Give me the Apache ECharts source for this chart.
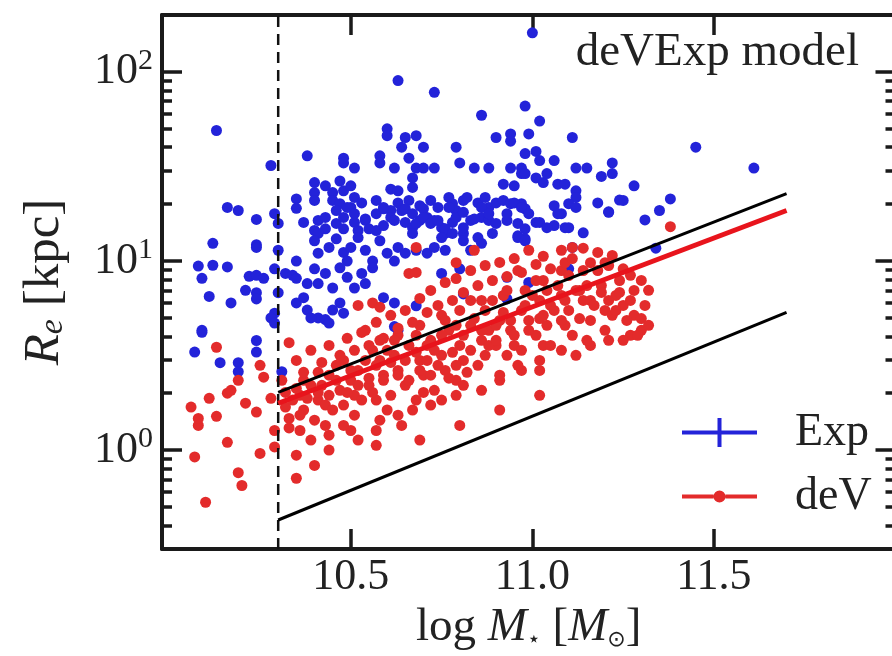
<!DOCTYPE html>
<html><head><meta charset="utf-8">
<script src="https://cdn.jsdelivr.net/npm/echarts@6/dist/echarts.min.js"></script>
<style>html,body{margin:0;padding:0;background:#fff}#c{width:892px;height:656px}</style>
</head><body><div id="c"></div>
<script>
// ---- data ----
const xTicks = [10.5, 11.0, 11.5];
const yMajorTicks = [1, 10, 100];
const yMinorTicks = [0.4,0.5,0.6,0.7,0.8,0.9,2,3,4,5,6,7,8,9,20,30,40,50,60,70,80,90];
const massCut = 10.3;
const upperLine = [[10.3, 2.02], [11.7, 22.7]];
const devFit = [[10.3, 1.77], [11.7, 18.5]];
const lowerLine = [[10.3, 0.427], [11.7, 5.35]];
const panelLabel = 'deVExp model';

const expPoints = [
[11.00,161],[10.63,90],[10.73,78],[10.98,66],[10.86,59],[11.02,55],[10.13,49],[10.60,50],[10.60,46],[10.65,45],
[10.68,46],[10.90,45],[10.94,47],[10.94,43],[10.99,47],[11.11,45],[10.79,40],[10.64,40],[10.70,40],[10.98,37],
[11.01,38],[10.38,36],[10.48,35],[10.48,33],[10.58,36],[10.58,33],[10.66,35],[10.51,31],[10.62,31],[10.68,31],
[10.70,31],[10.73,31],[10.80,33],[10.84,31],[10.88,31],[10.94,31],[10.97,31],[11.02,34],[11.06,34],[11.12,31],
[11.15,31],[11.22,33],[10.28,32],[11.19,28],[11.22,29],[11.28,25],[10.40,26],[10.40,23],[10.43,25],[10.45,23],
[10.47,26.5],[10.48,23.5],[10.50,25],[10.61,24],[10.63,23.5],[10.67,27.5],[10.67,24.5],[10.92,25.5],[10.95,25],[10.97,29],
[10.98,29],[11.01,27.5],[11.03,26],[11.04,29],[11.07,25.5],[11.09,25.5],[11.12,23.5],[11.12,21.7],[10.35,21.3],[10.40,20.9],
[10.45,20.9],[10.47,20.1],[10.51,21.7],[10.50,19.2],[10.53,20.3],[10.57,20.9],[10.59,18.9],[10.61,18.5],[10.63,20.3],[10.66,20.9],
[10.69,19.6],[10.70,18.9],[10.72,20.9],[10.74,19.2],[10.77,21.7],[10.78,20.1],[10.79,18.5],[10.81,20.9],[10.82,21.7],[10.85,20.3],
[10.87,21.7],[10.88,19.2],[10.90,20.3],[10.92,20.9],[10.94,20.1],[10.97,20.1],[10.98,18.9],[11.06,19.6],[11.08,17.8],[11.10,20.1],
[11.12,19.2],[11.18,20.3],[11.21,18.1],[11.25,20.9],[10.16,19.2],[10.19,18.5],[10.24,16.6],[10.29,17.8],[10.30,15.8],[10.35,19.0],
[10.37,16.0],[10.40,14.5],[10.41,16.4],[10.43,14.8],[10.46,15.8],[10.48,17.0],[10.48,14.8],[10.51,16.0],[10.52,14.5],[10.54,16.4],
[10.55,14.8],[10.57,14.5],[10.59,15.4],[10.61,17.0],[10.64,18.5],[10.65,16.0],[10.67,15.0],[10.69,16.4],[10.71,17.0],[10.73,16.4],
[10.75,15.0],[10.76,14.0],[10.78,16.0],[10.81,14.0],[10.81,15.0],[10.83,16.4],[10.86,17.0],[10.88,16.4],[10.93,16.4],[10.96,15.8],
[10.98,14.8],[11.01,16.0],[11.06,15.4],[11.09,15.0],[11.14,14.1],[10.96,13.6],[10.98,13.1],[10.12,12.4],[10.08,9.4],[10.12,9.5],
[10.16,9.3],[10.09,8.1],[10.11,6.5],[10.17,6.0],[10.09,4.3],[10.24,12.2],[10.24,11.8],[10.22,8.3],[10.24,8.4],[10.26,8.1],
[10.21,7.0],[10.24,6.8],[10.24,6.3],[10.29,9.1],[10.30,11.4],[10.30,6.8],[10.29,5.3],[10.28,5.0],[10.29,4.7],[10.32,8.6],
[10.34,8.4],[10.35,8.1],[10.35,10.0],[10.38,7.6],[10.35,6.0],[10.37,6.4],[10.38,5.5],
[10.41,14.0],[10.43,17.0],[10.46,18.5],[10.49,19.2],[10.51,17.8],[10.54,16.7],[10.57,17.8],[10.59,19.2],[10.62,16.4],[10.65,18.9],
[10.67,17.8],[10.68,15.8],[10.70,17.0],[10.72,15.8],[10.74,16.4],[10.76,14.8],[10.77,19.2],[10.79,17.0],[10.81,18.1],[10.84,16.7],
[10.86,19.2],[10.88,17.8],[10.90,15.8],[10.93,17.8],[10.95,20.3],[10.97,19.2],[10.99,17.8],[11.02,16.0],[11.07,17.8],[11.10,15.0],
[10.40,12.8],[10.41,11.0],[10.44,11.8],[10.46,13.1],[10.48,11.1],[10.50,11.8],[10.49,10.0],[10.52,13.3],[10.54,11.4],[10.56,10.0],
[10.58,12.8],[10.60,11.0],[10.62,10.0],[10.63,11.8],[10.65,11.0],[10.67,14.0],[10.68,11.4],[10.71,11.0],[10.73,11.8],[10.75,13.3],
[10.76,11.4],[10.78,14.0],[10.81,12.8],[10.83,11.4],[10.85,13.3],[10.86,12.4],[10.89,14.0],[10.96,13.3],[10.98,12.8],[11.04,15.0],
[11.11,11.8],[11.10,9.1],
[10.40,9.1],[10.41,7.6],[10.43,8.6],[10.45,7.2],[10.47,9.2],[10.49,8.2],[10.51,7.2],[10.53,8.6],[10.54,7.6],[10.56,9.2],
[10.59,6.4],[10.47,6.0],[10.45,5.5],[10.48,5.3],[10.41,5.0],[10.43,4.9],[10.44,4.7],[10.39,5.0],[10.62,6.0],[10.63,4.3],
[10.62,4.5],[10.68,5.8],[10.75,8.6],[10.80,9.1],[10.93,8.2],[10.99,7.7],[10.93,6.3],[10.81,6.7],
[11.45,40],[11.61,31],[11.21,18.2],[11.24,21],[11.31,16.5],[11.35,18.5],[11.38,21.3],[11.34,11.7],
[10.09,4.2],[10.07,3.3],[10.14,2.9],[10.19,2.9],[10.19,2.6],[10.24,3.8],[10.24,3.3],[10.31,2.6]
];

const devPoints = [
[10.06,1.69],[10.08,1.35],[10.08,1.47],[10.13,3.5],[10.11,1.88],[10.13,1.51],[10.16,1.10],[10.16,2.0],[10.17,2.07],[10.19,2.34],
[10.21,1.77],[10.24,1.59],[10.25,2.81],[10.26,2.43],[10.25,0.96],[10.29,1.04],[10.19,0.76],[10.20,0.65],[10.10,0.53],[10.07,0.92],
[10.29,1.27],[10.28,1.88],[10.31,2.34],[10.33,3.7],[10.32,1.69],[10.33,1.47],[10.36,1.27],[10.35,0.71],
[10.36,1.95],[10.39,2.20],[10.41,1.84],[10.44,2.49],[10.37,1.63],[10.40,1.44],[10.43,1.73],[10.47,2.07],[10.50,2.34],[10.48,2.98],
[10.52,2.64],[10.51,1.95],[10.55,2.20],[10.58,2.98],[10.59,2.49],[10.57,1.84],[10.62,3.17],[10.63,2.64],[10.65,2.20],[10.66,3.58],
[10.69,2.98],[10.70,2.49],[10.68,1.84],[10.72,3.81],[10.75,3.17],[10.76,2.64],[10.73,2.07],[10.77,4.30],[10.80,3.58],[10.81,2.98],
[10.79,2.34],[10.83,4.57],[10.86,3.81],[10.88,4.30],[10.87,3.17],[10.90,3.58],[10.91,4.85],[10.94,4.30],[10.97,5.48],[10.95,3.58],
[10.99,4.85],[11.02,6.19],[11.03,5.16],[11.01,4.05],[11.05,5.82],[11.08,6.58],[11.10,5.48],[11.09,4.57],[11.13,6.99],[11.16,6.19],
[11.19,7.42],[11.20,5.48],[11.23,6.58],[11.25,5.82],[11.28,5.16],[11.30,4.30],[11.24,7.89],[11.21,9.47],[11.14,8.91],[11.08,8.91],
[11.03,7.89],[10.98,6.99],[10.92,6.58],[10.86,6.19],[10.80,5.48],[10.75,5.16],[10.69,4.57],[10.63,4.05],[10.58,3.81],[10.54,4.30],
[10.52,5.82],[10.56,6.0],[10.58,5.7],[10.68,11.8],[10.84,11.4],[11.11,11.8],[10.66,8.6],[10.96,8.9],[11.38,15.2],
[10.44,1.20],[10.50,1.27],[10.58,1.44],[10.63,1.53],[10.72,1.73],[10.79,1.95],[10.86,2.07],[10.91,2.34],[10.97,2.64],[11.02,2.98],
[11.08,3.37],[11.16,3.58],[11.21,3.81],[11.27,4.05],[10.57,1.06],[10.69,1.13],[10.80,1.35],[10.91,1.63],[11.02,1.95],
[10.34,1.84],[10.35,2.12],[10.37,2.34],[10.38,1.88],[10.36,1.53],[10.33,1.31],[10.39,1.13],[10.35,0.94],[10.41,2.02],[10.32,2.02],
[10.42,2.20],[10.44,1.95],[10.45,1.63],[10.46,2.34],[10.43,1.35],[10.46,2.81],[10.41,2.58],[10.48,1.73],[10.44,1.00],[10.40,0.83],
[10.49,2.02],[10.50,2.64],[10.52,2.20],[10.53,1.84],[10.54,2.98],[10.51,1.53],[10.48,1.35],[10.55,2.40],[10.56,2.02],[10.52,1.13],
[10.57,2.81],[10.59,2.34],[10.60,3.37],[10.61,1.95],[10.63,2.49],[10.60,1.63],[10.57,1.27],[10.62,3.81],[10.61,2.91],[10.56,3.37],
[10.65,2.98],[10.66,2.34],[10.68,3.29],[10.69,2.64],[10.70,2.02],[10.71,3.58],[10.67,1.63],[10.64,1.35],[10.68,4.05],[10.71,2.98],
[10.73,3.37],[10.74,2.81],[10.75,4.05],[10.77,2.40],[10.78,3.29],[10.79,4.57],[10.75,1.84],[10.79,2.81],[10.76,4.85],[10.72,2.49],
[10.81,4.05],[10.83,3.37],[10.84,4.96],[10.85,2.81],[10.86,4.30],[10.88,3.58],[10.81,2.20],[10.87,5.48],[10.83,6.19],[10.82,2.58],
[10.90,4.57],[10.90,3.81],[10.92,5.35],[10.93,3.17],[10.94,4.85],[10.95,4.05],[10.89,6.19],[10.93,6.99],[10.96,2.81],[10.91,2.49],
[10.98,5.82],[10.99,4.30],[11.00,6.58],[11.02,4.96],[11.03,3.58],[11.04,6.99],[10.97,3.37],[11.04,4.57],[11.01,7.89],[11.02,2.64],
[11.06,5.48],[11.07,7.42],[11.08,4.85],[11.09,6.19],[11.11,4.05],[11.12,6.99],[11.05,3.58],[11.10,8.38],[11.13,4.96],[11.12,3.17],
[11.14,6.19],[11.15,7.42],[11.16,4.85],[11.17,5.82],[11.19,6.82],[11.20,4.30],[11.18,8.91],[11.21,6.19],[11.15,3.81],[11.22,5.16],
[11.23,5.48],[11.24,6.82],[11.26,4.85],[11.27,6.19],[11.28,6.99],[11.30,4.96],[11.31,5.82],[11.32,4.57],[11.25,3.81],[11.29,4.05],
[10.35,2.98],[10.37,2.58],[10.39,3.37],[10.42,2.91],[10.44,3.58],[10.47,3.17],[10.49,3.90],[10.51,3.37],[10.53,4.19],[10.55,3.58],
[10.57,4.74],[10.59,3.90],[10.61,5.16],[10.63,4.41],[10.65,5.48],[10.67,4.74],[10.69,6.34],[10.71,5.35],[10.72,6.99],[10.74,5.82],
[10.76,7.70],[10.78,6.19],[10.79,8.08],[10.81,6.82],[10.83,8.91],[10.85,7.42],[10.87,9.47],[10.89,7.89],[10.91,9.83],[10.93,8.28],
[10.95,10.3],[10.97,8.7],[10.99,11.4],[11.01,9.6],[11.03,10.6],[11.05,9.1],[11.08,11.4],[11.09,9.8],[11.11,10.3],[11.14,11.7],
[11.16,9.8],[11.18,11.1],[11.20,9.8],[11.22,10.7],[11.25,9.1],[11.27,8.4],[11.30,7.9],[11.32,7.0],[10.68,8.7],[10.79,9.8]
];

// ---- chart ----
const SERIF = '"Liberation Serif", "DejaVu Serif", serif';
const INK = '#1a1a1a';
const BLUE = '#2323d9';
const RED = '#e32b2b';

const expIcon = 'path://M0,12.5h75v4h-75z M35.5,0h4v29h-4z';
const devIcon = 'path://M0,0h0.01v0.01h-0.01z M0,28.99h0.01v0.01h-0.01z M0,12.5h31.6v4h-31.6z M43.4,12.5h31.6v4h-31.6z M31.5,14.5a6,6 0 1,1 12,0a6,6 0 1,1 -12,0z';

function yLabel(v) {
  const e = Math.round(Math.log10(v));
  return '{b|10}{sup|' + e + '}';
}

const baseX = {
  type: 'value', min: 9.98, max: 12.0,
  splitLine: { show: false },
  axisLine: { show: true, onZero: false, lineStyle: { color: INK, width: 4 } },
  axisTick: { show: true, inside: true, length: 20, lineStyle: { color: INK, width: 3.5 }, customValues: xTicks },
};
const baseY = {
  type: 'log', logBase: 10, min: 0.3, max: 200,
  splitLine: { show: false },
  axisLine: { show: true, onZero: false, lineStyle: { color: INK, width: 4 } },
};

const chart = echarts.init(document.getElementById('c'), null, { renderer: 'canvas' });
chart.setOption({
  animation: false,
  backgroundColor: '#fff',
  grid: { left: 162, top: 15, right: -3.5, bottom: 107, containLabel: false, outerBoundsMode: 'none' },
  title: {
    text: panelLabel, right: 28, top: 24,
    textStyle: { fontFamily: SERIF, fontSize: 47, fontWeight: 'normal', color: '#222' }
  },
  legend: {
    orient: 'vertical', left: 677, top: 404.5,
    itemWidth: 75, itemHeight: 29, itemGap: 18, selectedMode: false,
    data: [{ name: 'Exp', icon: expIcon }, { name: 'deV', icon: devIcon }],
    textStyle: { fontFamily: SERIF, fontSize: 46, color: '#222', lineHeight: 29, padding: [0, 0, 0, 33] }
  },
  xAxis: [
    Object.assign({}, baseX, {
      position: 'bottom',
      axisLabel: { show: true, customValues: xTicks, margin: 6, formatter: v => v.toFixed(1),
        fontFamily: SERIF, fontSize: 44, color: '#222' },
      name: '{n|log }{i|M}{s|\u22C6}{n| [}{i|M}{s|\u2299}{n|]}',
      nameLocation: 'middle', nameGap: 52,
      nameTextStyle: { rich: {
        n: { fontFamily: SERIF, fontSize: 47, color: '#222' },
        i: { fontFamily: SERIF, fontSize: 47, fontStyle: 'italic', color: '#222' },
        s: { fontFamily: '"DejaVu Sans", sans-serif', fontSize: 22, color: '#222', verticalAlign: 'bottom', padding: [14, 0, 0, 0] }
      } }
    }),
    Object.assign({}, baseX, { position: 'top', axisLabel: { show: false } })
  ],
  yAxis: [
    Object.assign({}, baseY, {
      position: 'left',
      axisTick: { show: true, inside: true, length: 20, lineStyle: { color: INK, width: 3.5 }, customValues: yMajorTicks },
      axisLabel: { show: true, customValues: yMajorTicks, margin: 9, formatter: yLabel,
        rich: {
          b: { fontFamily: SERIF, fontSize: 44, color: '#222' },
          sup: { fontFamily: SERIF, fontSize: 30, color: '#222', verticalAlign: 'bottom', padding: [0, 0, 22, 0] }
        } },
      name: '{i|R}{sub|e}{n| [kpc]}',
      nameLocation: 'middle', nameGap: 92, nameRotate: 90,
      nameTextStyle: { rich: {
        i: { fontFamily: SERIF, fontSize: 51, fontStyle: 'italic', color: '#222' },
        sub: { fontFamily: SERIF, fontSize: 34, fontStyle: 'italic', color: '#222', verticalAlign: 'bottom', padding: [17, 0, 0, 0] },
        n: { fontFamily: SERIF, fontSize: 51, color: '#222' }
      } }
    }),
    Object.assign({}, baseY, {
      position: 'right',
      axisTick: { show: true, inside: true, length: 20, lineStyle: { color: INK, width: 3.5 }, customValues: yMajorTicks },
      axisLabel: { show: false }
    }),
    Object.assign({}, baseY, {
      position: 'left', axisLine: { show: false },
      axisTick: { show: true, inside: true, length: 10, lineStyle: { color: INK, width: 3.5 }, customValues: yMinorTicks },
      axisLabel: { show: false }
    }),
    Object.assign({}, baseY, {
      position: 'right', axisLine: { show: false },
      axisTick: { show: true, inside: true, length: 10, lineStyle: { color: INK, width: 3.5 }, customValues: yMinorTicks },
      axisLabel: { show: false }
    })
  ],
  series: [
    { name: 'Exp', type: 'scatter', data: expPoints, symbol: 'circle', symbolSize: 11,
      itemStyle: { color: BLUE, opacity: 1 }, silent: true, z: 2 },
    { name: 'deV', type: 'scatter', data: devPoints, symbol: 'circle', symbolSize: 11,
      itemStyle: { color: RED, opacity: 1 }, silent: true, z: 3 },
    { name: 'cut', type: 'line', data: [[massCut, 0.3], [massCut, 200]], symbol: 'none', silent: true, z: 4,
      lineStyle: { color: '#111', width: 2.5, type: [11, 7] } },
    { name: 'upper', type: 'line', data: upperLine, symbol: 'none', silent: true, z: 4,
      lineStyle: { color: '#000', width: 3 } },
    { name: 'lower', type: 'line', data: lowerLine, symbol: 'none', silent: true, z: 4,
      lineStyle: { color: '#000', width: 3 } },
    { name: 'devfit', type: 'line', data: devFit, symbol: 'none', silent: true, z: 5,
      lineStyle: { color: '#e8141c', width: 5 } }
  ]
});
</script></body></html>
